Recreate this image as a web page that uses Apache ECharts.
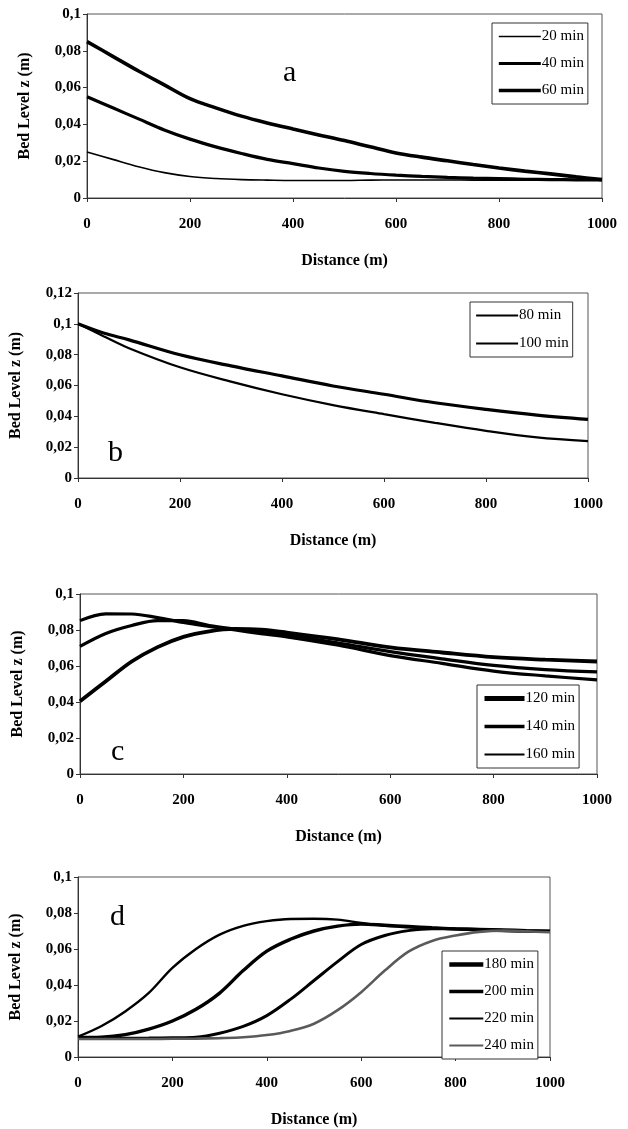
<!DOCTYPE html>
<html>
<head>
<meta charset="utf-8">
<script src="https://cdn.jsdelivr.net/npm/echarts@6/dist/echarts.min.js"></script>
<style>
  html, body { margin: 0; padding: 0; background: #fff; }
  #chart { width: 628px; height: 1129px; }
</style>
</head>
<body>
<div id="chart"></div>
<script>
// Distance along the channel (m) for each profile sample
const distA = [0, 50, 100, 150, 200, 250, 300, 350, 400, 450, 500, 550, 600, 650, 700, 750, 800, 850, 900, 950, 1000];
// Panel a: bed level (m)
const a20 = [0.025, 0.021, 0.017, 0.0138, 0.0117, 0.0106, 0.0100, 0.0097, 0.0095, 0.0095, 0.0095, 0.0097, 0.0098, 0.0098, 0.0098, 0.0097, 0.0097, 0.0097, 0.0097, 0.0097, 0.0097];
const a40 = [0.055, 0.049, 0.043, 0.037, 0.032, 0.0278, 0.0242, 0.021, 0.0187, 0.0163, 0.0145, 0.0133, 0.0124, 0.0117, 0.0112, 0.0108, 0.0105, 0.0102, 0.0100, 0.0099, 0.0098];
const a60 = [0.085, 0.077, 0.069, 0.0615, 0.054, 0.049, 0.0445, 0.0408, 0.0375, 0.0343, 0.0312, 0.0278, 0.0245, 0.0222, 0.0202, 0.0182, 0.0163, 0.0146, 0.0131, 0.0115, 0.0100];

// Panel b
const distB = [0, 50, 100, 200, 300, 400, 500, 600, 700, 800, 900, 1000];
const b80 = [0.100, 0.092, 0.0842, 0.0718, 0.0625, 0.0543, 0.0473, 0.0414, 0.0358, 0.0306, 0.0263, 0.0239];
const b100 = [0.100, 0.094, 0.0896, 0.0799, 0.0727, 0.0662, 0.0597, 0.0543, 0.0488, 0.0445, 0.0408, 0.0380];

// Panel c
const distC = [0, 50, 100, 150, 200, 250, 300, 350, 400, 500, 600, 700, 800, 900, 1000];
const c120 = [0.0852, 0.0890, 0.0889, 0.0869, 0.0842, 0.0820, 0.0800, 0.0780, 0.0762, 0.0715, 0.0658, 0.0615, 0.0572, 0.0545, 0.0523];
const c140 = [0.0709, 0.0781, 0.0825, 0.0852, 0.0852, 0.0825, 0.0805, 0.0787, 0.0772, 0.0728, 0.0680, 0.0640, 0.0603, 0.0580, 0.0567];
const c160 = [0.0404, 0.0515, 0.0625, 0.0705, 0.0762, 0.0793, 0.0806, 0.0802, 0.0786, 0.0748, 0.0704, 0.0675, 0.0649, 0.0635, 0.0625];

// Panel d
const distD = [0, 50, 100, 150, 200, 250, 300, 350, 400, 450, 500, 550, 600, 650, 700, 750, 800, 850, 900, 950, 1000];
const d180 = [0.0113, 0.0172, 0.0253, 0.0356, 0.0495, 0.0600, 0.0680, 0.0729, 0.0755, 0.0767, 0.0768, 0.0763, 0.0745, 0.0729, 0.0721, 0.0715, 0.0710, 0.0705, 0.0701, 0.0698, 0.0695];
const d200 = [0.0108, 0.0110, 0.0124, 0.0155, 0.0200, 0.0265, 0.0355, 0.0480, 0.0588, 0.0654, 0.0700, 0.0727, 0.0738, 0.0732, 0.0725, 0.0718, 0.0712, 0.0707, 0.0703, 0.0700, 0.0698];
const d220 = [0.0103, 0.0103, 0.0104, 0.0105, 0.0107, 0.0110, 0.0132, 0.0170, 0.0230, 0.0320, 0.0425, 0.0530, 0.0625, 0.0675, 0.0702, 0.0713, 0.0712, 0.0710, 0.0707, 0.0703, 0.0700];
const d240 = [0.0100, 0.0100, 0.0100, 0.0100, 0.0101, 0.0102, 0.0105, 0.0110, 0.0122, 0.0145, 0.0185, 0.0260, 0.0360, 0.0480, 0.0585, 0.0645, 0.0675, 0.0695, 0.0702, 0.0698, 0.0693];

const xTicks = [0, 200, 400, 600, 800, 1000];

const pair = (xs, ys) => xs.map((x, i) => [x, ys[i]]);
const serif = 'Liberation Serif';

const grids = [
  { left: 87, top: 14, width: 515, height: 184 },
  { left: 76, top: 293, width: 512, height: 185 },
  { left: 80, top: 594, width: 517, height: 180 },
  { left: 75, top: 877, width: 475, height: 184 }
];
const yMax = [0.1, 0.12, 0.1, 0.1];

const chart = echarts.init(document.getElementById('chart'), null, { renderer: 'canvas' });

const xAxes = grids.map((g, i) => ({
  type: 'value', gridIndex: i, min: 0, max: 1000, interval: 200,
  name: 'Distance (m)', nameLocation: 'middle', nameGap: 55,
  nameTextStyle: { fontFamily: serif, fontWeight: 'bold', fontSize: 16, color: '#000' },
  axisLine: { show: true, lineStyle: { color: '#333', width: 1 } },
  axisTick: { show: true, inside: false, length: 4, lineStyle: { color: '#333' } },
  axisLabel: { fontFamily: serif, fontWeight: 'bold', fontSize: 15, color: '#000', margin: 19,
    formatter: v => xTicks.includes(v) ? String(v) : '' },
  splitLine: { show: false }
}));

const yAxes = grids.map((g, i) => ({
  type: 'value', gridIndex: i, min: 0, max: yMax[i], interval: 0.02,
  name: 'Bed Level z (m)', nameLocation: 'middle', nameGap: 54,
  nameTextStyle: { fontFamily: serif, fontWeight: 'bold', fontSize: 16, color: '#000' },
  axisLine: { show: true, lineStyle: { color: '#333', width: 1 } },
  axisTick: { show: true, inside: false, length: 4, lineStyle: { color: '#333' } },
  axisLabel: { fontFamily: serif, fontWeight: 'bold', fontSize: 15, color: '#000', margin: 6,
    formatter: v => String(Number(v.toFixed(2))).replace('.', ',') },
  splitLine: { show: false }
}));

function line(name, idx, xs, ys, width, color) {
  return {
    name, type: 'line', xAxisIndex: idx, yAxisIndex: idx,
    data: pair(xs, ys), smooth: 0.35, symbol: 'none',
    lineStyle: { color: color || '#000', width },
    itemStyle: { color: color || '#000' },
    silent: true, animation: false
  };
}

const series = [
  line('20 min', 0, distA, a20, 1.6),
  line('40 min', 0, distA, a40, 3.2),
  line('60 min', 0, distA, a60, 3.6),
  line('80 min', 1, distB, b80, 2.2),
  line('100 min', 1, distB, b100, 3.2),
  line('120 min', 2, distC, c120, 3.2),
  line('140 min', 2, distC, c140, 3.2),
  line('160 min', 2, distC, c160, 3.8),
  line('180 min', 3, distD, d180, 2.4),
  line('200 min', 3, distD, d200, 3.4),
  line('220 min', 3, distD, d220, 3),
  line('240 min', 3, distD, d240, 2.6, '#5a5a5a')
];

function legendBox(names, left, top, widths, gap, iconW, colors) {
  return {
    data: names.map((n, k) => ({
      name: n,
      lineStyle: { width: widths[k], color: (colors && colors[k]) || '#000' }
    })),
    orient: 'vertical', left, top,
    itemWidth: iconW, itemHeight: 12, itemGap: gap,
    padding: [6, 4, 6, 5],
    itemStyle: { opacity: 0 },
    backgroundColor: '#fff', borderColor: '#333', borderWidth: 1,
    textStyle: { fontFamily: serif, fontSize: 15, color: '#000', padding: [0, 0, 0, -4] },
    selectedMode: false
  };
}

const letter = (t, x, y) => ({
  type: 'text', left: x, top: y,
  style: { text: t, font: '30px "Liberation Serif"', fill: '#000' }
});

chart.setOption({
  animation: false,
  backgroundColor: '#fff',
  grid: grids.map(g => Object.assign({ show: true, borderColor: '#555', borderWidth: 1, backgroundColor: 'transparent' }, g)),
  xAxis: xAxes,
  yAxis: yAxes,
  legend: [
    legendBox(['20 min', '40 min', '60 min'], 492, 23, [1.6, 3.2, 3.6], 12, 42),
    legendBox(['80 min', '100 min'], 470, 302, [2.2, 2.2], 13, 42),
    legendBox(['120 min', '140 min', '160 min'], 477, 685, [5, 3.4, 2.2], 13, 40),
    legendBox(['180 min', '200 min', '220 min', '240 min'], 442, 951, [4.6, 3.4, 2, 2.2], 12, 34,
      ['#000', '#000', '#000', '#5a5a5a'])
  ],
  series,
  graphic: [
    letter('a', 283, 58),
    letter('b', 108, 438),
    letter('c', 111, 737),
    letter('d', 110, 902)
  ]
});
</script>
</body>
</html>
